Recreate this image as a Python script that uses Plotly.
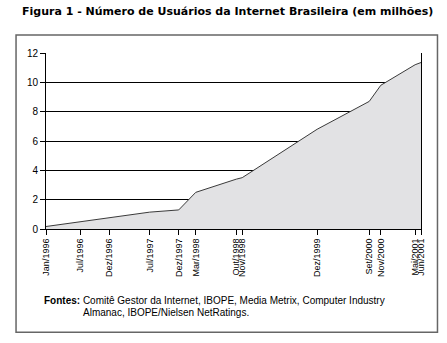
import plotly.graph_objects as go

# Internet users in Brazil (millions), by survey month
datas = ["1996-01-01", "1996-07-01", "1996-12-01", "1997-07-01", "1997-12-01",
         "1998-03-01", "1998-10-01", "1998-11-01", "1999-12-01", "2000-09-01",
         "2000-11-01", "2001-05-01", "2001-06-01"]
rotulos = ["Jan/1996", "Jul/1996", "Dez/1996", "Jul/1997", "Dez/1997",
           "Mar/1998", "Out/1998", "Nov/1998", "Dez/1999", "Set/2000",
           "Nov/2000", "Mai/2001", "Jun/2001"]
usuarios = [0.17, 0.5, 0.74, 1.15, 1.3, 2.5, 3.4, 3.5, 6.8, 8.7, 9.8, 11.2, 11.35]
y_ticks = [0, 2, 4, 6, 8, 10, 12]

W, H = 447, 343
L, R, T, B = 46, 25.5, 53, 113.5
pw, ph = W - L - R, H - T - B


def px(x):
    return (x - L) / pw


def py(y):
    return (H - B - y) / ph


fig = go.Figure()
fig.add_trace(go.Scatter(
    x=datas, y=usuarios, mode="lines", fill="tozeroy",
    fillcolor="#e2e2e4", line=dict(color="#3a3a3a", width=1),
    hoverinfo="x+y", showlegend=False,
))

fig.update_layout(
    width=W, height=H,
    margin=dict(l=L, r=R, t=T, b=B),
    paper_bgcolor="white", plot_bgcolor="white",
    font=dict(family="Liberation Sans, Arial, sans-serif", color="black"),
    xaxis=dict(
        type="date", range=["1996-01-01", "2001-06-01"],
        tickmode="array", tickvals=datas, ticktext=rotulos,
        tickangle=-90, tickfont=dict(size=9),
        ticks="outside", ticklen=5, tickcolor="black",
        showline=True, linecolor="black", linewidth=1,
        showgrid=False, zeroline=False,
    ),
    yaxis=dict(
        range=[0, 12], tickmode="array", tickvals=y_ticks,
        tickfont=dict(size=10),
        ticks="outside", ticklen=5, tickcolor="black",
        showline=True, linecolor="black", linewidth=1, mirror=True,
        showgrid=True, gridcolor="black", gridwidth=1, zeroline=False,
    ),
    shapes=[dict(
        type="rect", xref="paper", yref="paper",
        x0=px(16), x1=px(438), y0=py(333), y1=py(35),
        line=dict(color="#666666", width=1.5), layer="below",
    )],
    annotations=[
        dict(
            text="<b>Figura 1 - Número de Usuários da Internet Brasileira (em milhões)</b>",
            xref="paper", yref="paper", x=px(228), y=py(11),
            xanchor="center", yanchor="middle", showarrow=False,
            font=dict(family="DejaVu Sans, Verdana, sans-serif", size=11, color="black"),
        ),
        dict(
            text="<b>Fontes:</b> Comitê Gestor da Internet, IBOPE, Media Metrix, Computer Industry",
            xref="paper", yref="paper", x=px(42), y=py(301),
            xanchor="left", yanchor="middle", showarrow=False,
            font=dict(size=10, color="black"),
        ),
        dict(
            text="Almanac, IBOPE/Nielsen NetRatings.",
            xref="paper", yref="paper", x=px(81), y=py(313),
            xanchor="left", yanchor="middle", showarrow=False,
            font=dict(size=10, color="black"),
        ),
    ],
)

fig.write_html("out.html")
